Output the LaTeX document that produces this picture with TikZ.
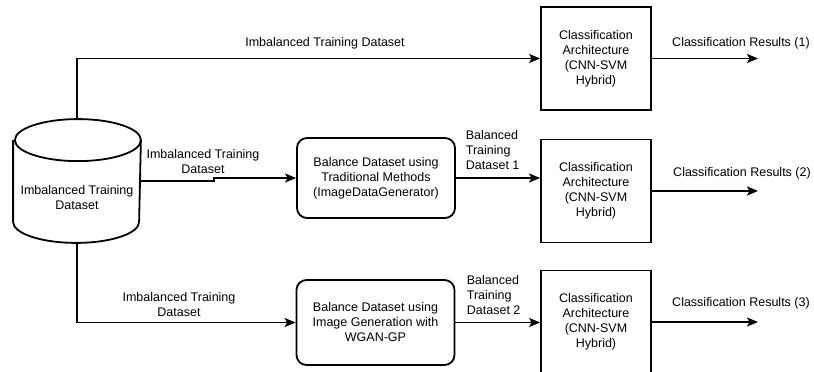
\documentclass[tikz,border=0pt]{standalone}
\usepackage{fontspec}
\setmainfont{Liberation Sans}
\usetikzlibrary{arrows.meta}
\tikzset{every path/.style={line width=1.8pt},
  every node/.style={font=\fontsize{12.5}{15}\selectfont, align=center, inner sep=1pt},
  dbstore/.style={minimum width=126pt, minimum height=122pt},
  balbox/.style={draw, rounded corners=10pt, minimum width=158pt},
  clsbox/.style={draw, minimum width=110pt, minimum height=103pt},
  flow/.style={-{Stealth[length=11pt,width=9pt,inset=2.5pt]}}}

\begin{document}
\begin{tikzpicture}[x=1pt,y=-1pt]
  \useasboundingbox (0,0) rectangle (814,372);
  \node[dbstore] (db) at (77,181) {};
  \node (dbtext) at (77,197.5) {Imbalanced Training\\Dataset};
  \node[balbox, minimum height=80pt] (bal1) at (376,178) {Balance Dataset using\\Traditional Methods\\(ImageDataGenerator)};
  \node[balbox, minimum height=85pt] (bal2) at (375.5,322.5) {Balance Dataset using\\Image Generation with\\WGAN-GP};
  \node[clsbox] (cls1) at (596,58.5) {Classification\\Architecture\\(CNN-SVM\\Hybrid)};
  \node[clsbox] (cls2) at (596,191) {Classification\\Architecture\\(CNN-SVM\\Hybrid)};
  \node[clsbox] (cls3) at (596,322) {Classification\\Architecture\\(CNN-SVM\\Hybrid)};
  \coordinate (res1) at (758,58.5);
  \coordinate (res2) at (758,191);
  \coordinate (res3) at (758,322);
  % the data store
  \draw ([yshift=-21pt]db.north west) -- ([yshift=21pt]db.south west)
    arc[start angle=180, end angle=360, x radius=63pt, y radius=21pt]
    -- ([yshift=-21pt]db.north east)
    arc[start angle=0, end angle=180, x radius=63pt, y radius=21pt]
    arc[start angle=180, end angle=360, x radius=63pt, y radius=21pt];
  % labels
  \node (lbl0) at (325,43) {Imbalanced Training Dataset};
  \node (lbl1) at (203,162) {Imbalanced Training\\Dataset};
  \node (lbl2) at (179,305) {Imbalanced Training\\Dataset};
  \node[anchor=west, align=left] (lbl3) at (464,150) {Balanced\\Training\\Dataset 1};
  \node[anchor=west, align=left] (lbl4) at (465,295.5) {Balanced\\Training\\Dataset 2};
  \node (out1) at (741,43) {Classification Results (1)};
  \node (out2) at (742,173) {Classification Results (2)};
  \node (out3) at (741,303) {Classification Results (3)};
  % connectors
  \draw[flow] (db.north) |- (cls1.west);
  \draw[flow] (db.east) -- ++(73,0) |- (bal1.west);
  \draw[flow] (db.south) |- (bal2.west);
  \draw[flow] (bal1.east) -- (bal1.east -| cls2.west);
  \draw[flow] (bal2.east) -- (bal2.east -| cls3.west);
  \draw[flow] (cls1.east) -- (res1);
  \draw[flow] (cls2.east) -- (res2);
  \draw[flow] (cls3.east) -- (res3);
\end{tikzpicture}
\end{document}
